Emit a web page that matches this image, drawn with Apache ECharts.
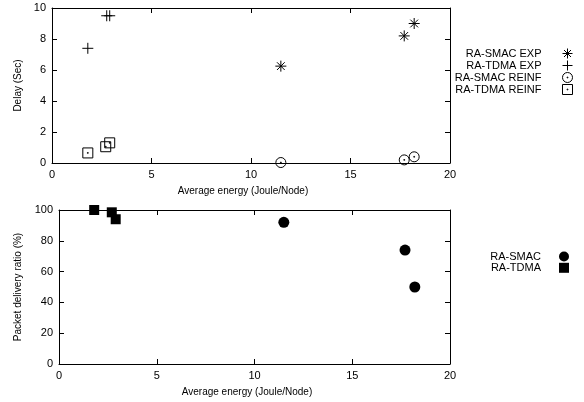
<!DOCTYPE html>
<html>
<head>
<meta charset="utf-8">
<title>Delay / PDR vs energy</title>
<script src="https://cdn.jsdelivr.net/npm/echarts@6/dist/echarts.min.js"></script>
<style>
    html, body { margin: 0; padding: 0; background: #fff; }
    #chart { width: 584px; height: 402px; }
</style>
</head>
<body>
<div id="chart"></div>
<script>
// 上图：时延（秒） vs 平均能耗
var smacExp = [[11.5, 6.25], [17.7, 8.2], [18.2, 9.0]];
var tdmaExp = [[1.8, 7.4], [2.75, 9.5], [2.9, 9.5]];
var smacReinf = [[11.5, 0.03], [17.7, 0.2], [18.2, 0.4]];
var tdmaReinf = [[1.8, 0.65], [2.7, 1.05], [2.9, 1.3]];

// 下图：投递率（%） vs 平均能耗
var smacPdr = [[11.5, 92], [17.7, 74], [18.2, 50]];
var tdmaPdr = [[1.8, 100], [2.7, 98.5], [2.9, 94]];

var xTicks = [0, 5, 10, 15, 20];
var delayTicks = [0, 2, 4, 6, 8, 10];
var pdrTicks = [0, 20, 40, 60, 80, 100];

var FONT = "'Liberation Sans', Arial, sans-serif";

// gnuplot 风格的点形（只描边）
var SYM = {
    star: 'path://M-5,0 L5,0 M0,-5 L0,5 M-3.5,-3.5 L3.5,3.5 M-3.5,3.5 L3.5,-3.5',
    plus: 'path://M-5,0 L5,0 M0,-5 L0,5',
    circle: 'path://M0,-5 A5,5 0 1,1 0,5 A5,5 0 1,1 0,-5 Z M-0.4,-0.4 L0.4,-0.4 L0.4,0.4 L-0.4,0.4 Z',
    square: 'path://M-5,-5 L5,-5 L5,5 L-5,5 Z M-0.4,-0.4 L0.4,-0.4 L0.4,0.4 L-0.4,0.4 Z'
};

var strokeStyle = { color: 'transparent', borderColor: '#000', borderWidth: 1, opacity: 1 };
var fillStyle = { color: '#000', borderWidth: 0, opacity: 1 };

// 简单的浅拷贝合并
function $extend(target) {
    for (var i = 1; i < arguments.length; i++) {
        for (var k in arguments[i]) {
            target[k] = arguments[i][k];
        }
    }
    return target;
}

// 每个 grid 上下各一条 x 轴（上面那条只画刻度）
function xAxisPair(grid, nameShift) {
    var base = {
        gridIndex: grid, type: 'value', min: xTicks[0], max: xTicks[xTicks.length - 1],
        interval: 5, splitLine: { show: false },
        axisLine: { onZero: false, lineStyle: { color: '#000', width: 1 } },
        axisTick: { inside: true, length: 5, lineStyle: { color: '#000' } }
    };
    var bottom = $extend({}, base, {
        position: 'bottom',
        name: 'Average energy (Joule/Node)', nameLocation: 'middle', nameGap: 23,
        nameTextStyle: { fontFamily: FONT, fontSize: 10, color: '#000', padding: [0, nameShift, 0, 0] },
        axisLabel: { fontFamily: FONT, fontSize: 11, color: '#000', margin: 6 }
    });
    var top = $extend({}, base, { position: 'top', axisLabel: { show: false } });
    return [bottom, top];
}

// 左右各一条 y 轴（右边那条只画刻度）
function yAxisPair(grid, ticks, name, gap) {
    var base = {
        gridIndex: grid, type: 'value', min: ticks[0], max: ticks[ticks.length - 1],
        interval: ticks[1] - ticks[0], splitLine: { show: false },
        axisLine: { onZero: false, lineStyle: { color: '#000', width: 1 } },
        axisTick: { inside: true, length: 5, lineStyle: { color: '#000' } }
    };
    var left = $extend({}, base, {
        position: 'left',
        name: name, nameLocation: 'middle', nameGap: gap, nameRotate: 90,
        nameTextStyle: { fontFamily: FONT, fontSize: 10, color: '#000' },
        axisLabel: { fontFamily: FONT, fontSize: 11, color: '#000', margin: 6 }
    });
    var right = $extend({}, base, { position: 'right', axisLabel: { show: false } });
    return [left, right];
}

// 图例：文字右对齐，图标在右边
function legendAt(items, top, right, textPad, gap) {
    return {
        data: items, orient: 'vertical', align: 'right', top: top, right: right, padding: 0,
        itemWidth: 10, itemHeight: 10, itemGap: gap, selectedMode: false,
        textStyle: { fontFamily: FONT, fontSize: 11, color: '#000', padding: [0, textPad, 0, 0] }
    };
}

var xa = xAxisPair(0, 16).concat(xAxisPair(1, 15));
var ya = yAxisPair(0, delayTicks, 'Delay (Sec)', 23).concat(yAxisPair(1, pdrTicks, 'Packet delivery ratio (%)', 30));

var option = {
    animation: false,
    backgroundColor: '#fff',
    textStyle: { fontFamily: FONT },
    grid: [
        { left: 52, top: 8, width: 398, height: 155 },
        { left: 59, top: 210, width: 391, height: 154 }
    ],
    legend: [
        legendAt([
            { name: 'RA-SMAC EXP', itemStyle: strokeStyle },
            { name: 'RA-TDMA EXP', itemStyle: strokeStyle },
            { name: 'RA-SMAC REINF', itemStyle: strokeStyle },
            { name: 'RA-TDMA REINF', itemStyle: strokeStyle }
        ], 48, 11, 16, 1),
        legendAt([
            { name: 'RA-SMAC', itemStyle: fillStyle },
            { name: 'RA-TDMA', itemStyle: fillStyle }
        ], 251, 15, 13, 0.3)
    ],
    xAxis: xa,
    yAxis: ya,
    series: [
        { name: 'RA-SMAC EXP', type: 'scatter', xAxisIndex: 0, yAxisIndex: 0, data: smacExp,
          symbol: SYM.star, symbolSize: 11, itemStyle: strokeStyle },
        { name: 'RA-TDMA EXP', type: 'scatter', xAxisIndex: 0, yAxisIndex: 0, data: tdmaExp,
          symbol: SYM.plus, symbolSize: 11, itemStyle: strokeStyle },
        { name: 'RA-SMAC REINF', type: 'scatter', xAxisIndex: 0, yAxisIndex: 0, data: smacReinf,
          symbol: SYM.circle, symbolSize: 10, itemStyle: strokeStyle },
        { name: 'RA-TDMA REINF', type: 'scatter', xAxisIndex: 0, yAxisIndex: 0, data: tdmaReinf,
          symbol: SYM.square, symbolSize: 10, itemStyle: strokeStyle },
        { name: 'RA-SMAC', type: 'scatter', xAxisIndex: 2, yAxisIndex: 2, data: smacPdr,
          symbol: 'circle', symbolSize: 11, itemStyle: fillStyle },
        { name: 'RA-TDMA', type: 'scatter', xAxisIndex: 2, yAxisIndex: 2, data: tdmaPdr,
          symbol: 'rect', symbolSize: 10, itemStyle: fillStyle }
    ]
};

var myChart = echarts.init(document.getElementById('chart'), null, { renderer: 'canvas' });
myChart.setOption(option);
</script>
</body>
</html>
